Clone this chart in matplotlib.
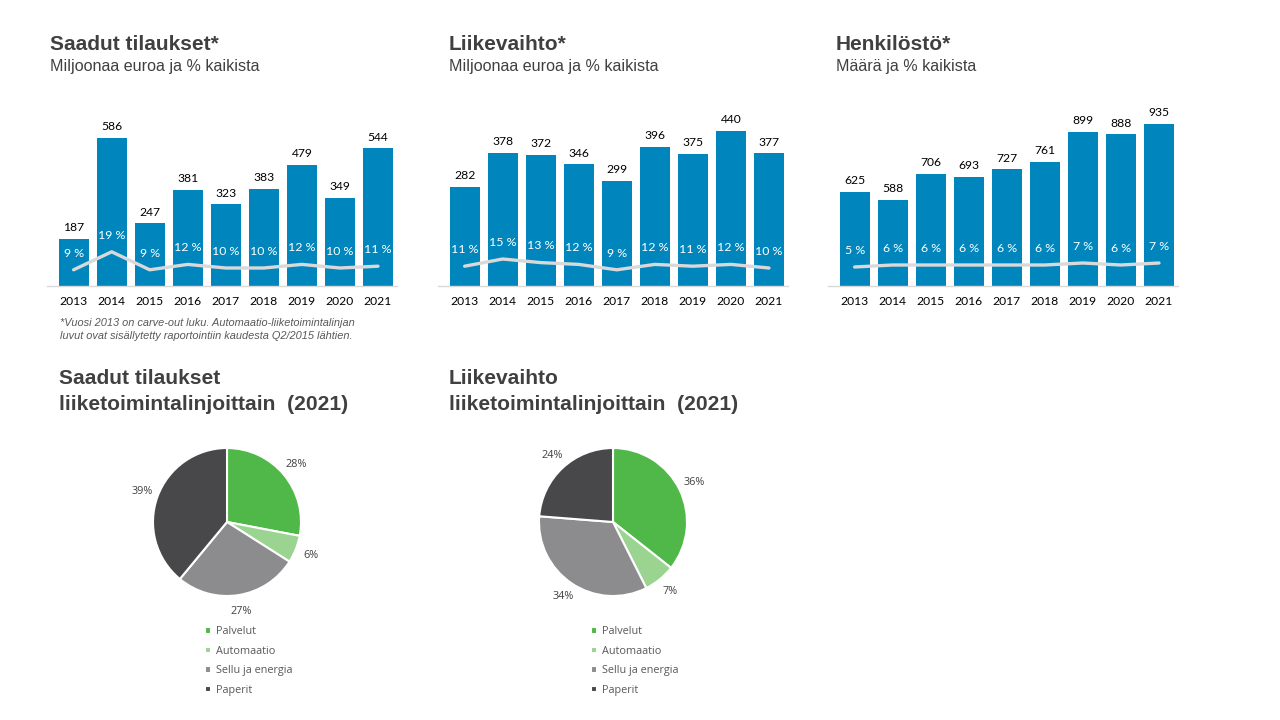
import numpy as np
import matplotlib
matplotlib.use("Agg")
from matplotlib import pyplot as plt


W, H = 1280, 720

years = ["2013", "2014", "2015", "2016", "2017", "2018", "2019", "2020", "2021"]

orders = [187, 586, 247, 381, 323, 383, 479, 349, 544]
orders_pct = [9, 19, 9, 12, 10, 10, 12, 10, 11]

sales = [282, 378, 372, 346, 299, 396, 375, 440, 377]
sales_pct = [11, 15, 13, 12, 9, 12, 11, 12, 10]

staff = [625, 588, 706, 693, 727, 761, 899, 888, 935]
staff_pct = [5, 6, 6, 6, 6, 6, 7, 6, 7]

segments = ["Palvelut", "Automaatio", "Sellu ja energia", "Paperit"]
orders_split = [28, 6, 27, 39]
sales_split = [36, 7, 34, 24]

BLUE = "#0086bd"
LINE = "#d9d9d9"
DARK = "#404040"
PIE_COLORS = ["#50b848", "#9bd490", "#8c8c8e", "#48484b"]

BAR_FONT = ["Lato", "DejaVu Sans"]
PIE_FONT = ["Open Sans", "DejaVu Sans"]
HEAD_FONT = ["Liberation Sans", "DejaVu Sans"]


def px_box(left, top, width, height):
    return [left / W, (H - top - height) / H, width / W, height / H]


def bar_chart(fig, left, title_x, title, subtitle, values, pcts, ylim, plim):
    ax = fig.add_axes(px_box(left, 106, 350, 180))
    x = np.arange(len(years))

    ax.bar(x, values, width=0.79, color=BLUE, zorder=2)
    ax.set_xlim(-0.7, 8.5)
    ax.set_ylim(*ylim)

    for xi, v in zip(x, values):
        ax.annotate(str(v), (xi, v), xytext=(0, 4), textcoords="offset points",
                    ha="center", va="bottom", fontsize=8.7, family=BAR_FONT,
                    color="black")

    ax2 = ax.twinx()
    ax2.set_ylim(*plim)
    ax2.plot(x, pcts, color=LINE, linewidth=2.4, solid_capstyle="round",
             zorder=3)
    for xi, p in zip(x, pcts):
        ax2.annotate(f"{p} %", (xi, p), xytext=(0, 12), textcoords="offset points",
                     ha="center", va="center", fontsize=8.9, family=BAR_FONT,
                     color="white")

    for a in (ax, ax2):
        for side in ("top", "right", "left"):
            a.spines[side].set_visible(False)
        a.set_yticks([])
    ax2.spines["bottom"].set_visible(False)
    ax.spines["bottom"].set_color("#d9d9d9")
    ax.spines["bottom"].set_linewidth(1.0)

    ax.set_xticks(x)
    ax.set_xticklabels(years, fontsize=8.7, family=BAR_FONT, color="black")
    ax.tick_params(axis="x", length=0, pad=7)

    fig.text(title_x / W, 1 - 45 / H, title, ha="left", va="center",
             fontsize=15, fontweight="bold", family=HEAD_FONT, color=DARK)
    fig.text(title_x / W, 1 - 67 / H, subtitle, ha="left", va="center",
             fontsize=11.6, family=HEAD_FONT, color=DARK)
    return ax


def pie_chart(fig, cx, cy, values, title_x, title):
    size = 296
    ax = fig.add_axes(px_box(cx - size / 2, cy - size / 2, size, size))
    labels = [f"{v}%" for v in values]
    wedges, texts = ax.pie(values, colors=PIE_COLORS, startangle=90,
                           counterclock=False, labels=labels,
                           labeldistance=1.22,
                           wedgeprops={"edgecolor": "white", "linewidth": 1.5},
                           textprops={"fontsize": 7.8, "family": PIE_FONT,
                                      "color": DARK})
    for t in texts:
        t.set_ha("center")
        t.set_va("center")
    ax.set_xlim(-2, 2)
    ax.set_ylim(-2, 2)
    ax.set_aspect("equal")
    ax.axis("off")

    ax.legend(wedges, segments, loc="upper left",
              bbox_to_anchor=((cx - 27) / W, 1 - 621 / H),
              bbox_transform=fig.transFigure, frameon=False,
              prop={"family": PIE_FONT, "size": 7.8},
              labelcolor="#595959", handlelength=0.55, handleheight=0.55,
              handletextpad=0.4, labelspacing=0.78, borderpad=0)

    fig.text(title_x / W, 1 - 379 / H, title[0], ha="left", va="center",
             fontsize=15.1, fontweight="bold", family=HEAD_FONT, color=DARK)
    fig.text(title_x / W, 1 - 405 / H, title[1], ha="left", va="center",
             fontsize=15.1, fontweight="bold", family=HEAD_FONT, color=DARK)


fig = plt.figure(figsize=(12.8, 7.2), dpi=100)

bar_chart(fig, 47, 50, "Saadut tilaukset*", "Miljoonaa euroa ja % kaikista",
          orders, orders_pct, (0, 711), (0, 100))
bar_chart(fig, 438, 449, "Liikevaihto*", "Miljoonaa euroa ja % kaikista",
          sales, sales_pct, (0, 511), (0, 100))
bar_chart(fig, 828, 836, "Henkilöstö*", "Määrä ja % kaikista",
          staff, staff_pct, (196, 1016), (-4.5, 85.5))

for i, line in enumerate([
        "*Vuosi 2013 on carve-out luku. Automaatio-liiketoimintalinjan",
        "luvut ovat sisällytetty raportointiin kaudesta Q2/2015 lähtien."]):
    fig.text(60 / W, 1 - (323 + 13 * i) / H, line, ha="left", va="center",
             fontsize=7.9, style="italic", family=HEAD_FONT, color="#595959")

pie_chart(fig, 227, 522, orders_split, 59,
          ["Saadut tilaukset", "liiketoimintalinjoittain  (2021)"])
pie_chart(fig, 613, 522, sales_split, 449,
          ["Liikevaihto", "liiketoimintalinjoittain  (2021)"])

fig.savefig("out.png", dpi=100, facecolor="white")
